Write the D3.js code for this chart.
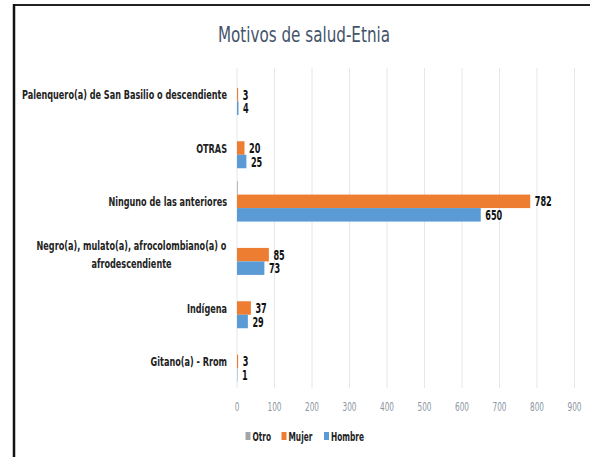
<!DOCTYPE html>
<html><head><meta charset="utf-8">
<script src="https://cdn.jsdelivr.net/npm/d3@7"></script>
<style>
body{margin:0;background:#fff;}
svg{display:block;}
</style></head>
<body>
<svg id="c" width="590" height="457"></svg>
<script>
const categories = [
  ["Palenquero(a) de San Basilio o descendiente"],
  ["OTRAS"],
  ["Ninguno de las anteriores"],
  ["Negro(a), mulato(a), afrocolombiano(a) o", "afrodescendiente"],
  ["Indígena"],
  ["Gitano(a) - Rrom"]
];
const seriesNames = ["Otro", "Mujer", "Hombre"];
const otro   = [0, 0, 2, 0, 0, 0];
const mujer  = [3, 20, 782, 85, 37, 3];
const hombre = [4, 25, 650, 73, 29, 1];
const showLabel = [false, true, true];
const colors = ["#A5A5A5", "#ED7D31", "#5B9BD5"];
const xTicks = [0,100,200,300,400,500,600,700,800,900];
const title = "Motivos de salud-Etnia";

const font = "'Liberation Sans Narrow','DejaVu Sans Condensed','Arial Narrow',sans-serif";
const svg = d3.select("#c");

// measure helper: returns natural width of a string with given style
function measure(str, size, weight){
  const t = svg.append("text").attr("font-family",font).attr("font-size",size)
    .attr("font-weight",weight).text(str);
  const w = t.node().getComputedTextLength();
  t.remove();
  return w;
}
// compress a text node by a factor
function squeeze(sel, factor){
  sel.each(function(){
    const nodes = this.querySelectorAll("tspan");
    const arr = nodes.length ? Array.from(nodes) : [this];
    arr.forEach(n=>{
      const w = n.getComputedTextLength();
      n.setAttribute("textLength", (w*factor).toFixed(2));
      n.setAttribute("lengthAdjust","spacingAndGlyphs");
    });
  });
}

// frame
svg.append("line").attr("x1",14).attr("x2",590).attr("y1",5).attr("y2",5).attr("stroke","#222").attr("stroke-width",2);
svg.append("line").attr("x1",14).attr("x2",14).attr("y1",4).attr("y2",457).attr("stroke","#111").attr("stroke-width",2.5);

const titleT = svg.append("text").attr("x",304).attr("y",42).attr("text-anchor","middle")
  .attr("font-family",font).attr("font-size",21).attr("fill","#44546A").text(title);
squeeze(titleT, 172/measure(title,21,"normal"));

const x = d3.scaleLinear().domain([0,900]).range([237,574.5]);
const y = d3.scaleBand().domain(d3.range(categories.length)).range([68,388]);
const sub = d3.scaleBand().domain(seriesNames).range([0,40.5]);
const values = [otro, mujer, hombre];

// grid
svg.append("g").selectAll("line").data(xTicks).join("line")
  .attr("x1",d=>x(d)).attr("x2",d=>x(d)).attr("y1",68).attr("y2",388)
  .attr("stroke","#E3E6EA").attr("stroke-width",1);

// tick labels
const tickF = 14/measure("900",11.5,"normal");
const ticks = svg.append("g").selectAll("text").data(xTicks).join("text")
  .attr("x",d=>x(d)).attr("y",411).attr("text-anchor","middle")
  .attr("font-family",font).attr("font-size",11.5).attr("fill","#8C96A3").text(d=>d);
squeeze(ticks, tickF);

// bars
const gOff = (y.bandwidth()-40.5)/2;
const valF = 17/measure("782",13.5,"bold");
seriesNames.forEach((s,si)=>{
  const g = svg.append("g");
  g.selectAll("rect").data(values[si]).join("rect")
    .attr("x",x(0)).attr("y",(d,i)=>y(i)+gOff+sub(s))
    .attr("width",d=>x(d)-x(0)).attr("height",sub.bandwidth())
    .attr("fill",colors[si]);
  if(showLabel[si]){
    const lab = g.selectAll("text").data(values[si]).join("text")
      .attr("x",d=>x(d)+4.5).attr("y",(d,i)=>y(i)+gOff+sub(s)+sub.bandwidth()/2+5)
      .attr("font-family",font).attr("font-size",13.5).attr("font-weight","bold").attr("fill","#111")
      .text(d=>d);
    squeeze(lab, valF);
  }
});

// category labels
const catF = 205/measure(categories[0][0],12.5,"bold");
categories.forEach((lines,i)=>{
  const cy = y(i)+y.bandwidth()/2;
  const t = svg.append("text").attr("text-anchor",lines.length>1?"middle":"end")
    .attr("font-family",font).attr("font-size",12.5).attr("font-weight","bold").attr("fill","#222");
  lines.forEach((ln,j)=>{
    t.append("tspan").attr("x",lines.length>1?131.5:227)
      .attr("y",cy + (j-(lines.length-1)/2)*18.5 + 4.5).text(ln);
  });
  squeeze(t, catF);
});

// legend
const legF = 33/measure("Hombre",12,"bold");
const leg = [{n:"Otro",x:245.5},{n:"Mujer",x:281.5},{n:"Hombre",x:324}];
leg.forEach((l,i)=>{
  svg.append("rect").attr("x",l.x).attr("y",432).attr("width",5).attr("height",8).attr("fill",colors[i]);
  const lt = svg.append("text").attr("x",l.x+7).attr("y",441).attr("font-family",font).attr("font-size",12)
    .attr("font-weight","bold").attr("fill","#222").text(l.n);
  squeeze(lt, legF);
});
</script>
</body></html>
